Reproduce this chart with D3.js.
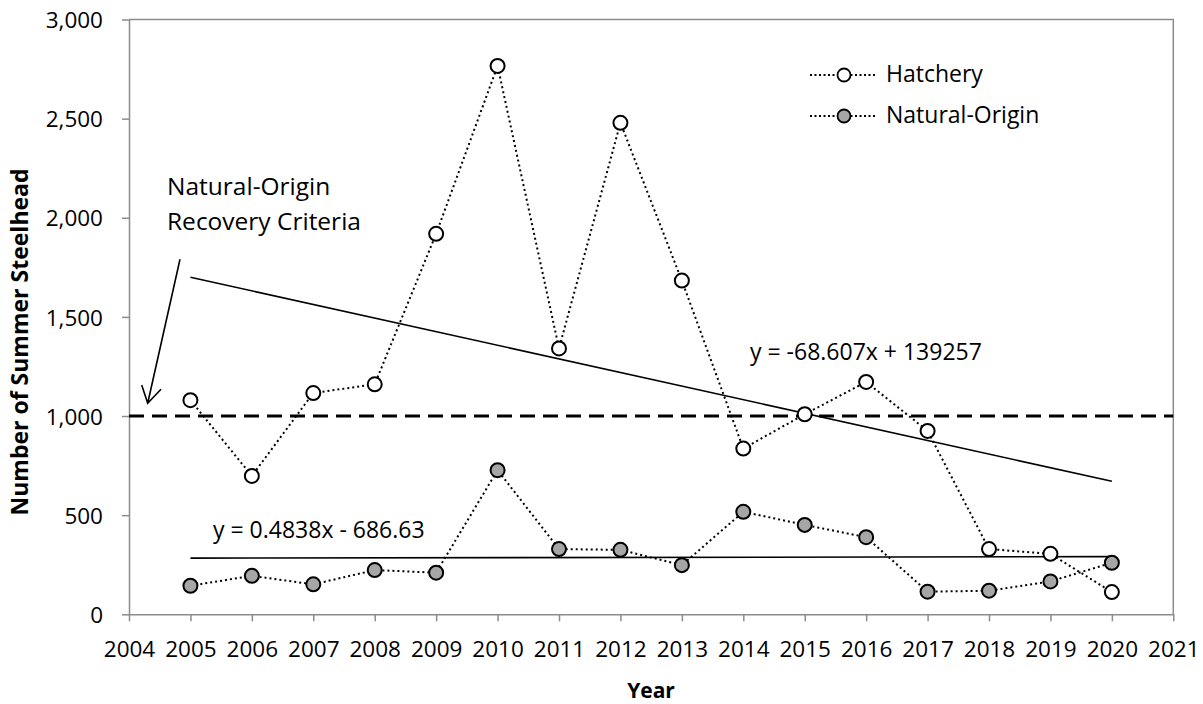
<!DOCTYPE html>
<html>
<head>
<meta charset="utf-8">
<script src="https://cdn.jsdelivr.net/npm/d3@7"></script>
<style>
  html, body { margin: 0; padding: 0; background: #fff; }
  svg { display: block; font-family: "Open Sans", "Liberation Sans", sans-serif; }
</style>
</head>
<body>
<svg id="chart" width="1203" height="704"></svg>
<script>
// Summer steelhead counts by return year
const years = [2005, 2006, 2007, 2008, 2009, 2010, 2011, 2012, 2013, 2014, 2015, 2016, 2017, 2018, 2019, 2020];
const hatchery = [1080, 698, 1116, 1160, 1919, 2766, 1341, 2479, 1683, 836, 1009, 1172, 925, 329, 305, 112];
const naturalOrigin = [144, 194, 151, 223, 210, 727, 329, 325, 248, 517, 451, 389, 114, 119, 166, 260];

// Linear trend fits (slope, intercept) against calendar year
const hatcheryTrend = { slope: -68.607, intercept: 139257, label: "y = -68.607x + 139257" };
const naturalTrend = { slope: 0.4838, intercept: -686.63, label: "y = 0.4838x - 686.63" };

const recoveryCriteria = 1000;
const xTicks = d3.range(2004, 2022);
const yTicks = [0, 500, 1000, 1500, 2000, 2500, 3000];

const svg = d3.select("#chart");
const plotL = 129, plotT = 19.5, plotR = 1173.3, plotB = 614.3;

const x = d3.scaleLinear().domain([2004, 2021]).range([plotL, plotR]);
const y = d3.scaleLinear().domain([0, 3000]).range([plotB, plotT]);

const axisGrey = "#8c8c8c";

// Plot frame (top and right edges)
svg.append("path")
  .attr("d", `M${plotL},${plotT}H${plotR}V${plotB}`)
  .attr("fill", "none").attr("stroke", axisGrey).attr("stroke-width", 1.5);

// Axes
const xAxis = svg.append("g").attr("transform", `translate(0,${plotB})`)
  .call(d3.axisBottom(x).tickValues(xTicks).tickFormat(d3.format("d")).tickSize(7).tickSizeOuter(0));
const yAxis = svg.append("g").attr("transform", `translate(${plotL},0)`)
  .call(d3.axisLeft(y).tickValues(yTicks).tickFormat(d3.format(",")).tickSize(7).tickSizeOuter(0));

[xAxis, yAxis].forEach(g => {
  g.select(".domain").attr("stroke", axisGrey).attr("stroke-width", 1.5);
  g.selectAll(".tick line").attr("stroke", axisGrey).attr("stroke-width", 1.5);
  g.selectAll(".tick text").attr("fill", "#000").style("font-size", "22.5px")
    .style("font-family", "'Open Sans', sans-serif");
});
xAxis.selectAll(".tick text").attr("dy", "0").attr("y", 42.5);
yAxis.selectAll(".tick text").attr("x", -26).attr("dy", "0.36em");

// Axis titles
svg.append("text")
  .attr("x", 651).attr("y", 698)
  .attr("text-anchor", "middle").style("font-weight", "bold").style("font-size", "21px")
  .text("Year");
svg.append("text")
  .attr("transform", "translate(28,342) rotate(-90)")
  .attr("text-anchor", "middle").style("font-weight", "bold").style("font-size", "23px")
  .text("Number of Summer Steelhead");

// Recovery criteria reference line
svg.append("line")
  .attr("x1", plotL).attr("x2", plotR)
  .attr("y1", y(recoveryCriteria)).attr("y2", y(recoveryCriteria))
  .attr("stroke", "#000").attr("stroke-width", 3).attr("stroke-dasharray", "15,8");

// Trend lines across the data range
[hatcheryTrend, naturalTrend].forEach(t => {
  const x0 = years[0], x1 = years[years.length - 1];
  svg.append("line")
    .attr("x1", x(x0)).attr("y1", y(t.slope * x0 + t.intercept))
    .attr("x2", x(x1)).attr("y2", y(t.slope * x1 + t.intercept))
    .attr("stroke", "#000").attr("stroke-width", 1.6);
});

// Trend equations
svg.append("text").attr("x", 750).attr("y", 360).style("font-size", "23px").text(hatcheryTrend.label);
svg.append("text").attr("x", 213).attr("y", 538).style("font-size", "23px").text(naturalTrend.label);

// Series lines and markers
const line = d3.line().x(d => x(d[0])).y(d => y(d[1]));
const series = [
  { name: "Hatchery", values: hatchery, fill: "#fff" },
  { name: "Natural-Origin", values: naturalOrigin, fill: "#a6a6a6" }
];

series.forEach(s => {
  const pts = years.map((yr, i) => [yr, s.values[i]]);
  svg.append("path").datum(pts).attr("d", line)
    .attr("fill", "none").attr("stroke", "#000").attr("stroke-width", 2)
    .attr("stroke-dasharray", "2,3");
});
series.forEach(s => {
  svg.append("g").selectAll("circle")
    .data(years.map((yr, i) => [yr, s.values[i]]))
    .join("circle")
    .attr("cx", d => x(d[0])).attr("cy", d => y(d[1])).attr("r", 7)
    .attr("fill", s.fill).attr("stroke", "#000").attr("stroke-width", 2);
});

// Legend
const legend = svg.append("g");
series.forEach((s, i) => {
  const ly = 75 + i * 41;
  legend.append("line").attr("x1", 810).attr("x2", 877).attr("y1", ly).attr("y2", ly)
    .attr("stroke", "#000").attr("stroke-width", 1.8).attr("stroke-dasharray", "2,2.5");
  legend.append("circle").attr("cx", 844).attr("cy", ly).attr("r", 6.5)
    .attr("fill", s.fill).attr("stroke", "#000").attr("stroke-width", 1.8);
  legend.append("text").attr("x", 886).attr("y", ly + 7).style("font-size", "23px").text(s.name);
});

// Recovery criteria annotation with arrow
svg.append("text").attr("x", 167).attr("y", 195).style("font-size", "24.5px").text("Natural-Origin");
svg.append("text").attr("x", 167).attr("y", 230).style("font-size", "24.5px").text("Recovery Criteria");
svg.append("path")
  .attr("d", "M180,259.3L147.7,403.3M141.7,385L147.7,403.3L161,389.3")
  .attr("fill", "none").attr("stroke", "#000").attr("stroke-width", 1.6);
</script>
</body>
</html>
